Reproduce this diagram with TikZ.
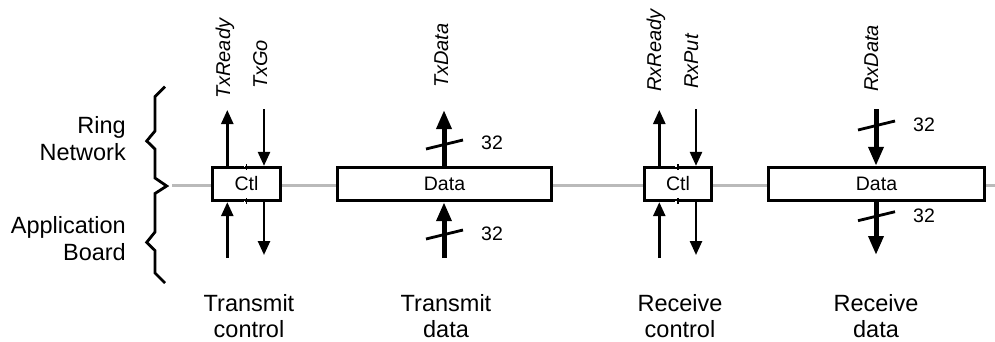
\documentclass[tikz,border=0pt]{standalone}
\usepackage{fontspec}
\setmainfont{Liberation Sans}
\usetikzlibrary{arrows.meta}
\begin{document}
\begin{tikzpicture}[x=1pt,y=1pt,
  box/.style={draw, line width=2.8pt, fill=white, inner sep=0pt,
    minimum height=33.5pt, font=\fontsize{19.5}{22}\selectfont},
  sig/.style={line width=2.5pt, -{Triangle[width=12pt,length=14pt]}},
  bus/.style={line width=5pt, -{Triangle[width=14.5pt,length=19pt]}},
  slash/.style={line width=2.8pt},
  buswidth/.style={font=\fontsize{19.5}{22}\selectfont, anchor=west, inner sep=0pt},
  signame/.style={rotate=90, anchor=base west, inner sep=0pt,
    font=\fontsize{20}{24}\selectfont\itshape},
  caption/.style={align=center, anchor=north, inner sep=0pt,
    font=\fontsize{23.5}{26}\selectfont},
  side/.style={align=right, anchor=north east, inner sep=0pt,
    font=\fontsize{23.5}{27}\selectfont},
  ring/.style={draw=black!27, line width=3pt},
  brace/.style={line width=2.8pt, line join=miter}]
\useasboundingbox (0,0) rectangle (995,-341);

% ring bus running through all interfaces
\coordinate (ringL) at (172,-185);
\coordinate (ringR) at (995,-185);
\draw[ring] (ringL) -- (ringR);

% side labels and brace
\node[side] (ringlbl) at (126,-116.5) {Ring\\Network};
\node[side] (applbl) at (126,-216.5) {Application\\Board};
\draw[brace] (165,-86.7) -- (155,-96.7) -- (155,-131) -- (146.7,-141)
  -- (155,-149) -- (155,-178) -- (166.7,-186) -- (155,-193.5)
  -- (155,-232) -- (146.7,-242.3) -- (155,-250.5) -- (155,-273)
  -- (165,-283);

% interface boxes
\node[box, minimum width=68pt]  (ctlT)  at (246.5,-184) {Ctl};
\node[box, minimum width=214pt] (dataT) at (444.5,-184) {Data};
\node[box, minimum width=67pt]  (ctlR)  at (678,-184)   {Ctl};
\node[box, minimum width=216pt] (dataR) at (876.5,-184) {Data};

% split marks in the control boxes
\foreach \b/\m in {ctlT/246.5, ctlR/678} {
  \draw[white, line width=1.3pt] ([yshift=1.6pt]\b.north -| \m-2,0) -- ([yshift=-1.6pt]\b.north -| \m-2,0);
  \draw[white, line width=1.3pt] ([yshift=1.6pt]\b.south -| \m-2,0) -- ([yshift=-1.6pt]\b.south -| \m-2,0);
  \draw[line width=1.4pt] ([yshift=1.4pt]\b.north -| \m,0) -- ([yshift=-4.5pt]\b.north -| \m,0);
  \draw[line width=1.4pt] ([yshift=-1.4pt]\b.south -| \m,0) -- ([yshift=4.5pt]\b.south -| \m,0);
}

% transmit control
\coordinate (txrdy) at (227.3,-110);
\coordinate (txgo)  at (264,-109);
\coordinate (txrdyB) at (227.3,-258);
\coordinate (txgoB)  at (264,-255);
\draw[sig] (ctlT.north -| txrdy) -- (txrdy);
\draw[sig] (txgo) -- (ctlT.north -| txgo);
\draw[sig] (txrdyB) -- (ctlT.south -| txrdyB);
\draw[sig] (ctlT.south -| txgoB) -- (txgoB);
\node[signame] (ltxrdy) at (230,-99) {TxReady};
\node[signame] (ltxgo)  at (267,-89) {TxGo};

% transmit data
\coordinate (txd)  at (444,-110);
\coordinate (txdB) at (444,-258);
\draw[bus] (dataT.north -| txd) -- (txd);
\draw[bus] (txdB) -- (dataT.south -| txdB);
\draw[slash] (426,-149) -- (463,-140);
\draw[slash] (426,-239) -- (463,-230);
\node[buswidth] (wtxd)  at (481,-143) {32};
\node[buswidth] (wtxdB) at (481,-234) {32};
\node[signame] (ltxd) at (448,-88) {TxData};

% receive control
\coordinate (rxrdy) at (659.3,-110);
\coordinate (rxput) at (696,-109);
\coordinate (rxrdyB) at (659.3,-258);
\coordinate (rxputB) at (696,-255);
\draw[sig] (ctlR.north -| rxrdy) -- (rxrdy);
\draw[sig] (rxput) -- (ctlR.north -| rxput);
\draw[sig] (rxrdyB) -- (ctlR.south -| rxrdyB);
\draw[sig] (ctlR.south -| rxputB) -- (rxputB);
\node[signame] (lrxrdy) at (661,-92) {RxReady};
\node[signame] (lrxput) at (698,-89) {RxPut};

% receive data
\coordinate (rxd)  at (876,-109);
\coordinate (rxdB) at (876,-255);
\draw[bus] (rxd) -- (dataR.north -| rxd);
\draw[bus] (dataR.south -| rxdB) -- (rxdB);
\draw[slash] (858,-130) -- (895,-121);
\draw[slash] (858,-220.7) -- (895,-211.7);
\node[buswidth] (wrxd)  at (913,-125) {32};
\node[buswidth] (wrxdB) at (913,-216) {32};
\node[signame] (lrxd) at (878,-92) {RxData};

% captions
\node[caption] (capTC) at (249,-294.5) {Transmit\\control};
\node[caption] (capTD) at (446,-294.5) {Transmit\\data};
\node[caption] (capRC) at (680,-294.5) {Receive\\control};
\node[caption] (capRD) at (876,-294.5) {Receive\\data};
\end{tikzpicture}
\end{document}
